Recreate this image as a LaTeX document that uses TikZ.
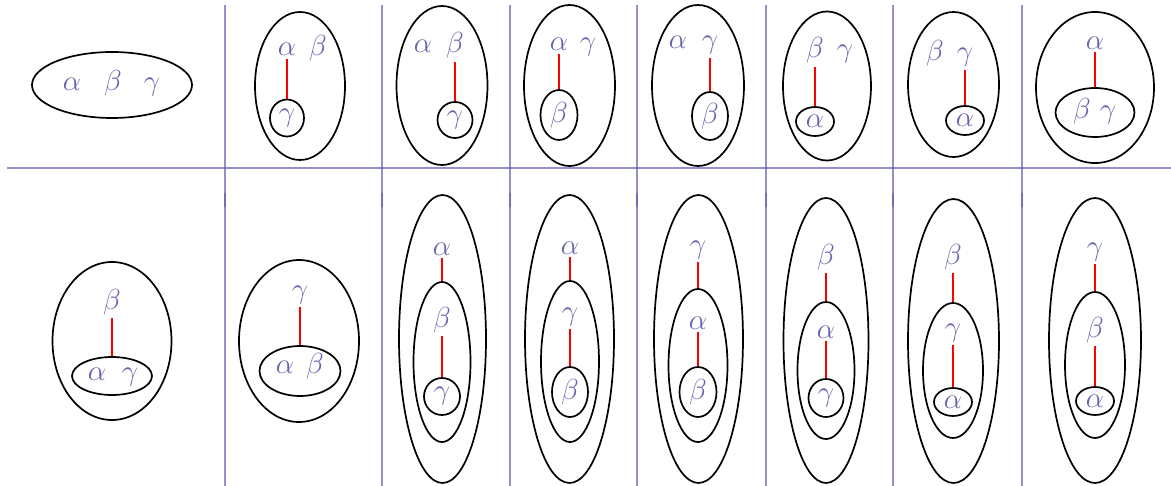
\documentclass[tikz,border=0pt]{standalone}
\usepackage{fix-cm}
\usetikzlibrary{shapes.geometric}
\definecolor{gridc}{RGB}{100,100,180}
\definecolor{txtc}{RGB}{100,100,172}
\tikzset{
  gridline/.style={draw=gridc, line width=1.2pt, opacity=0.7},
  ell/.style={ellipse, draw=black, line width=1.7pt, inner sep=0pt, minimum width=#1},
  letter/.style={text=txtc, inner sep=3pt, font=\fontsize{29}{34}\selectfont},
  bl/.style={letter, anchor=base},
  link/.style={draw=red, line width=2pt}
}
\begin{document}
\begin{tikzpicture}[x=1pt,y=-1pt]
\useasboundingbox (0,0) rectangle (1171,486);
% grid
\draw[gridline] (7,168) -- (1171,168);
\foreach \gx in {225,382,510,637,766,893,1022}{
  \draw[gridline] (\gx,5) -- (\gx,207);
  \draw[gridline] (\gx,193) -- (\gx,486);
}
% ---------------- top row ----------------
% cell 0
\node[ell=160pt, minimum height=66pt] (e0) at (112,85) {};
\node[bl] (a0) at (72,91) {$\alpha$};
\node[bl] (b0) at (113,91) {$\beta$};
\node[bl] (g0) at (152,91) {$\gamma$};
% cell 1
\node[ell=90pt, minimum height=148pt] (e1) at (300,86) {};
\node[bl] (a1) at (287,56) {$\alpha$};
\node[bl] (b1) at (318,56) {$\beta$};
\node[ell=34pt, minimum height=37pt] (i1) at (287,118) {};
\node[letter] (g1) at (i1.center) {$\gamma$};
\draw[link] (a1.south) -- (i1.north);
% cell 2
\node[ell=91pt, minimum height=159pt] (e2) at (442,85.5) {};
\node[bl] (a2) at (423,53) {$\alpha$};
\node[bl] (b2) at (455,53) {$\beta$};
\node[ell=35pt, minimum height=36pt] (i2) at (455,120) {};
\node[letter] (g2) at (i2.center) {$\gamma$};
\draw[link] (b2.south) -- (i2.north);
% cell 3
\node[ell=91pt, minimum height=161pt] (e3) at (569.5,85.5) {};
\node[bl] (a3) at (559,51) {$\alpha$};
\node[bl] (g3) at (588,51) {$\gamma$};
\node[ell=37pt, minimum height=50pt] (i3) at (559,115) {};
\node[letter] (b3) at (i3.center) {$\beta$};
\draw[link] (a3.south) -- (i3.north);
% cell 4
\node[ell=92pt, minimum height=161pt] (e4) at (698,85.5) {};
\node[bl] (a4) at (678,49) {$\alpha$};
\node[bl] (g4) at (710,49) {$\gamma$};
\node[ell=36pt, minimum height=48pt] (i4) at (710,116) {};
\node[letter] (b4) at (i4.center) {$\beta$};
\draw[link] (g4.south) -- (i4.north);
% cell 5
\node[ell=88pt, minimum height=149pt] (e5) at (827,86) {};
\node[bl] (b5) at (815,58) {$\beta$};
\node[bl] (g5) at (845,58) {$\gamma$};
\node[ell=38pt, minimum height=29pt] (i5) at (815,121.5) {};
\node[letter] (a5) at (i5.center) {$\alpha$};
\draw[link] (b5.south) -- (i5.north);
% cell 6
\node[ell=91pt, minimum height=145pt] (e6) at (953.5,84.5) {};
\node[bl] (b6) at (935,61) {$\beta$};
\node[bl] (g6) at (965,61) {$\gamma$};
\node[ell=38pt, minimum height=29pt] (i6) at (965,120.5) {};
\node[letter] (a6) at (i6.center) {$\alpha$};
\draw[link] (g6.south) -- (i6.north);
% cell 7
\node[ell=118pt, minimum height=151pt] (e7) at (1095,87.5) {};
\node[letter] (a7) at (1095,43) {$\alpha$};
\node[ell=79pt, minimum height=49pt] (i7) at (1095,112.5) {};
\node[bl] (b7) at (1082,119) {$\beta$};
\node[bl] (g7) at (1108,119) {$\gamma$};
\draw[link] (a7.south) -- (i7.north);
% ---------------- bottom row ----------------
% cell 0
\node[ell=119pt, minimum height=158pt] (f0) at (112,341) {};
\node[letter] (p0) at (112,302) {$\beta$};
\node[ell=80pt, minimum height=38pt] (j0) at (112,376) {};
\node[bl] (q0) at (97,381) {$\alpha$};
\node[bl] (r0) at (130,381) {$\gamma$};
\draw[link] (p0.south) -- (j0.north);
% cell 1
\node[ell=120pt, minimum height=162pt] (f1) at (299,341) {};
\node[letter] (p1) at (300,295) {$\gamma$};
\node[ell=81pt, minimum height=50pt] (j1) at (300,371) {};
\node[bl] (q1) at (285,374) {$\alpha$};
\node[bl] (r1) at (315,374) {$\beta$};
\draw[link] (p1.south) -- (j1.north);
% cell 2
\node[ell=87pt, minimum height=288pt] (f2) at (442.5,339) {};
\node[letter] (p2) at (442,249) {$\alpha$};
\node[ell=57pt, minimum height=160pt] (m2) at (442,362) {};
\node[letter] (q2) at (442,320) {$\beta$};
\node[ell=36pt, minimum height=37pt] (j2) at (442,396.5) {};
\node[letter] (r2) at (j2.center) {$\gamma$};
\draw[link] (p2.south) -- (m2.north);
\draw[link] (q2.south) -- (j2.north);
% cell 3
\node[ell=89pt, minimum height=288pt] (f3) at (569.5,339) {};
\node[letter] (p3) at (570,248) {$\alpha$};
\node[ell=58pt, minimum height=161pt] (m3) at (570,361.5) {};
\node[letter] (q3) at (570,317) {$\gamma$};
\node[ell=36pt, minimum height=50pt] (j3) at (570,392) {};
\node[letter] (r3) at (j3.center) {$\beta$};
\draw[link] (p3.south) -- (m3.north);
\draw[link] (q3.south) -- (j3.north);
% cell 4
\node[ell=89pt, minimum height=288pt] (f4) at (698.5,339) {};
\node[letter] (p4) at (698,250) {$\gamma$};
\node[ell=59pt, minimum height=153pt] (m4) at (698,365.5) {};
\node[letter] (q4) at (698,323) {$\alpha$};
\node[ell=37pt, minimum height=50pt] (j4) at (698,392) {};
\node[letter] (r4) at (j4.center) {$\beta$};
\draw[link] (p4.south) -- (m4.north);
\draw[link] (q4.south) -- (j4.north);
% cell 5
\node[ell=85pt, minimum height=285pt] (f5) at (826,340.5) {};
\node[letter] (p5) at (826,257) {$\beta$};
\node[ell=57pt, minimum height=137pt] (m5) at (826,370.5) {};
\node[letter] (q5) at (826,332) {$\alpha$};
\node[ell=35pt, minimum height=38pt] (j5) at (826,398) {};
\node[letter] (r5) at (j5.center) {$\gamma$};
\draw[link] (p5.south) -- (m5.north);
\draw[link] (q5.south) -- (j5.north);
% cell 6
\node[ell=91pt, minimum height=284pt] (f6) at (953.5,341) {};
\node[letter] (p6) at (953,257) {$\beta$};
\node[ell=60pt, minimum height=135pt] (m6) at (953,370.5) {};
\node[letter] (q6) at (953,333) {$\gamma$};
\node[ell=38pt, minimum height=28pt] (j6) at (953,402) {};
\node[letter] (r6) at (j6.center) {$\alpha$};
\draw[link] (p6.south) -- (m6.north);
\draw[link] (q6.south) -- (j6.north);
% cell 7
\node[ell=92pt, minimum height=285pt] (f7) at (1095,340.5) {};
\node[letter] (p7) at (1095,252) {$\gamma$};
\node[ell=60pt, minimum height=146pt] (m7) at (1095,365) {};
\node[letter] (q7) at (1095,330) {$\beta$};
\node[ell=38pt, minimum height=28pt] (j7) at (1095,401) {};
\node[letter] (r7) at (j7.center) {$\alpha$};
\draw[link] (p7.south) -- (m7.north);
\draw[link] (q7.south) -- (j7.north);
\end{tikzpicture}
\end{document}
